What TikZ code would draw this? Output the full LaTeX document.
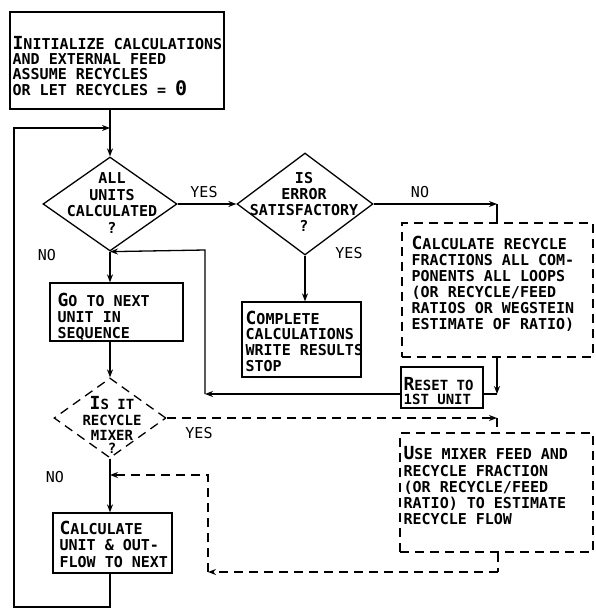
\documentclass[tikz,border=0pt]{standalone}
\usepackage{fontspec}
\setmainfont{DejaVu Sans Mono}
\usetikzlibrary{shapes.geometric,arrows.meta}
\newcommand\BL[1]{{\fontsize{18}{18}\selectfont #1}}
\begin{document}
\begin{tikzpicture}[x=1pt,y=-1pt,
  line width=1.3pt,
  arr/.style={-{Stealth[length=8pt,width=6pt]}},
  dsh/.style={dash pattern=on 9pt off 6pt},
  box/.style={draw,rectangle,inner sep=0pt},
  dia/.style={draw,diamond,inner sep=0pt},
  txt/.style={inner sep=0pt,anchor=north west,align=left},
  ctxt/.style={inner sep=0pt,anchor=north,align=center},
  lbl/.style={inner sep=0pt,font=\fontsize{15}{15}\selectfont}]
\useasboundingbox (0,0) rectangle (595,610);

% shapes
\node[box,minimum width=214pt,minimum height=97pt] (init) at (117,60.5) {};
\node[dia,minimum width=134pt,minimum height=94pt] (d1) at (110,204) {};
\node[dia,minimum width=136pt,minimum height=102pt] (d2) at (305,204) {};
\node[box,minimum width=133pt,minimum height=58pt] (go) at (116.5,312) {};
\node[box,minimum width=119pt,minimum height=75pt] (comp) at (301.5,339.5) {};
\node[box,dsh,minimum width=191pt,minimum height=134pt] (cr) at (497.5,290) {};
\node[box,minimum width=82pt,minimum height=41pt] (reset) at (442,387.5) {};
\node[dia,dsh,minimum width=112pt,minimum height=80pt] (d3) at (110,418) {};
\node[box,dsh,minimum width=193pt,minimum height=119pt] (mix) at (496.5,492.5) {};
\node[box,minimum width=119pt,minimum height=60pt] (cu) at (112.5,543) {};

% texts
\node[txt,font=\bfseries\fontsize{15}{15}\selectfont] (tinit) at (12,36) {\BL{I}NITIALIZE CALCULATIONS\\AND EXTERNAL FEED\\ASSUME RECYCLES\\OR LET RECYCLES = {\fontsize{20}{15}\selectfont 0}};
\node[ctxt,font=\bfseries\fontsize{15}{16.5}\selectfont] (td1) at (112,172) {ALL\\UNITS\\CALCULATED\\?};
\node[ctxt,font=\bfseries\fontsize{15}{16}\selectfont] (td2) at (304,172) {IS\\ERROR\\SATISFACTORY\\?};
\node[txt,font=\bfseries\fontsize{15}{16}\selectfont] (tcr) at (411,235) {\BL{C}ALCULATE RECYCLE\\FRACTIONS ALL COM-\\PONENTS ALL LOOPS\\(OR RECYCLE/FEED\\RATIOS OR WEGSTEIN\\ESTIMATE OF RATIO)};
\node[txt,font=\bfseries\fontsize{15}{15.7}\selectfont] (tcomp) at (245,310) {\BL{C}OMPLETE\\CALCULATIONS\\WRITE RESULTS\\STOP};
\node[txt,font=\bfseries\fontsize{14}{14}\selectfont] (treset) at (403,377) {\BL{R}ESET TO\\1ST UNIT};
\node[txt,font=\bfseries\fontsize{15}{16}\selectfont] (tgo) at (57,292) {\BL{G}O TO NEXT\\UNIT IN\\SEQUENCE};
\node[ctxt,font=\bfseries\fontsize{14}{15.5}\selectfont] (td3) at (112,396) {\BL{I}S IT\\RECYCLE\\MIXER\\[-3pt]?};
\node[txt,font=\bfseries\fontsize{15}{16.3}\selectfont] (tmix) at (403,446) {\BL{U}SE MIXER FEED AND\\RECYCLE FRACTION\\(OR RECYCLE/FEED\\RATIO) TO ESTIMATE\\RECYCLE FLOW};
\node[txt,font=\bfseries\fontsize{15}{16.5}\selectfont] (tcu) at (59,520) {\BL{C}ALCULATE\\UNIT \& OUT-\\FLOW TO NEXT};

% labels
\node[lbl] (yes1) at (204,192) {YES};
\node[lbl] (no1) at (420,192) {NO};
\node[lbl] (yes2) at (349,253) {YES};
\node[lbl] (no2) at (47,255) {NO};
\node[lbl] (yes3) at (199,433) {YES};
\node[lbl] (no3) at (55,477) {NO};

% coordinates
\coordinate (j1) at (110,128);
\coordinate (tl) at (14,128);
\coordinate (bl) at (14,607);
\coordinate (c1) at (497,204);
\coordinate (c2) at (497,394);
\coordinate (c3) at (205,394);
\coordinate (c4) at (205,250);
\coordinate (c5) at (497,418);
\coordinate (c6) at (498,572);
\coordinate (c7) at (208,572);
\coordinate (c8) at (208,475);
\coordinate (c9) at (110,475);

% connectors
\draw[arr] (init.south -| d1.north) -- (d1.north);
\draw[arr] (cu.south -| j1) -- (bl -| j1) -- (bl) -- (tl) -- (j1);
\draw[arr] (d1.south) -- (d1.south |- go.north);
\draw[arr] (go.south -| d3.north) -- (d3.north);
\draw[arr] (d3.south) -- (d3.south |- cu.north);
\draw[arr] (d1.east) -- (d2.west);
\draw[arr] (d2.east) -- (c1);
\draw (c1) -- (c1 |- cr.north);
\draw[arr] (d2.south) -- (d2.south |- comp.north);
\draw[arr] (c2 |- cr.south) -- (c2);
\draw (c2) -- (c2 -| reset.east);
\draw[arr] (c3 -| reset.west) -- (c3);
\draw[arr] (c3) -- (c4) -- (d1.south);
\draw[arr,dsh] (d3.east) -- (c5);
\draw[dsh] (c5) -- (c5 |- mix.north);
\draw[dsh] (c6 |- mix.south) -- (c6);
\draw[arr,dsh] (c6) -- (c7);
\draw[arr,dsh] (c7) -- (c8) -- (c9);
\end{tikzpicture}
\end{document}
